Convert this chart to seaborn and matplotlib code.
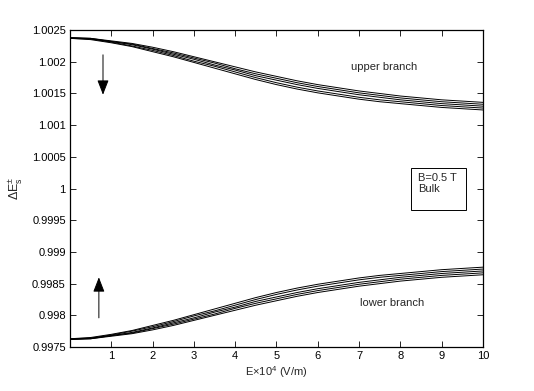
import matplotlib
matplotlib.use("Agg")
import matplotlib.pyplot as plt
import seaborn as sns
import numpy as np
import pandas as pd
from matplotlib.patches import Rectangle

# ---- data ----
E = [0, 0.5, 1, 1.5, 2, 2.5, 3, 3.5, 4, 4.5, 5, 5.5, 6, 6.5, 7, 7.5, 8, 8.5, 9, 9.5, 10]

upper1 = [1.00238, 1.00237, 1.00233, 1.00229, 1.00223, 1.00216, 1.00208, 1.00200, 1.00192, 1.00184, 1.00177,
          1.00170, 1.00164, 1.00159, 1.00154, 1.00150, 1.00146, 1.00143, 1.00140, 1.00138, 1.00136]
upper2 = [1.00238, 1.00237, 1.00232, 1.00228, 1.00221, 1.00214, 1.00206, 1.00198, 1.00189, 1.00181, 1.00174,
          1.00167, 1.00161, 1.00156, 1.00151, 1.00147, 1.00143, 1.00140, 1.00137, 1.00135, 1.00133]
upper3 = [1.00238, 1.00236, 1.00232, 1.00227, 1.00220, 1.00212, 1.00204, 1.00195, 1.00187, 1.00178, 1.00171,
          1.00164, 1.00158, 1.00153, 1.00148, 1.00144, 1.00140, 1.00137, 1.00134, 1.00132, 1.00130]
upper4 = [1.00237, 1.00236, 1.00231, 1.00225, 1.00218, 1.00210, 1.00201, 1.00193, 1.00184, 1.00175, 1.00167,
          1.00160, 1.00154, 1.00149, 1.00144, 1.00140, 1.00137, 1.00134, 1.00131, 1.00129, 1.00127]
upper5 = [1.00237, 1.00235, 1.00230, 1.00224, 1.00216, 1.00208, 1.00199, 1.00190, 1.00181, 1.00172, 1.00164,
          1.00157, 1.00151, 1.00146, 1.00141, 1.00137, 1.00134, 1.00131, 1.00128, 1.00126, 1.00124]

lower1 = [0.99762, 0.99763, 0.99767, 0.99771, 0.99777, 0.99784, 0.99792, 0.99800, 0.99808, 0.99816, 0.99823,
          0.99830, 0.99836, 0.99841, 0.99846, 0.99850, 0.99854, 0.99857, 0.99860, 0.99862, 0.99864]
lower2 = [0.99762, 0.99763, 0.99768, 0.99772, 0.99779, 0.99786, 0.99794, 0.99802, 0.99811, 0.99819, 0.99826,
          0.99833, 0.99839, 0.99844, 0.99849, 0.99853, 0.99857, 0.99860, 0.99863, 0.99865, 0.99867]
lower3 = [0.99762, 0.99764, 0.99768, 0.99773, 0.99780, 0.99788, 0.99796, 0.99805, 0.99813, 0.99822, 0.99829,
          0.99836, 0.99842, 0.99847, 0.99852, 0.99856, 0.99860, 0.99863, 0.99866, 0.99868, 0.99870]
lower4 = [0.99763, 0.99764, 0.99769, 0.99775, 0.99782, 0.99790, 0.99799, 0.99807, 0.99816, 0.99825, 0.99833,
          0.99840, 0.99846, 0.99851, 0.99856, 0.99860, 0.99863, 0.99866, 0.99869, 0.99871, 0.99873]
lower5 = [0.99763, 0.99765, 0.99770, 0.99776, 0.99784, 0.99792, 0.99801, 0.99810, 0.99819, 0.99828, 0.99836,
          0.99843, 0.99849, 0.99854, 0.99859, 0.99863, 0.99866, 0.99869, 0.99872, 0.99874, 0.99876]

curves = {"u1": upper1, "u2": upper2, "u3": upper3, "u4": upper4, "u5": upper5,
          "l1": lower1, "l2": lower2, "l3": lower3, "l4": lower4, "l5": lower5}

x_ticks = [1, 2, 3, 4, 5, 6, 7, 8, 9, 10]
y_ticks = [0.9975, 0.998, 0.9985, 0.999, 0.9995, 1.0, 1.0005, 1.001, 1.0015, 1.002, 1.0025]
y_labels = ["0.9975", "0.998", "0.9985", "0.999", "0.9995", "1", "1.0005", "1.001", "1.0015", "1.002", "1.0025"]

# ---- style ----
sns.set_style("ticks", {"xtick.direction": "in", "ytick.direction": "in"})
plt.rcParams["font.family"] = ["Liberation Sans", "DejaVu Sans"]
plt.rcParams["mathtext.fontset"] = "custom"
plt.rcParams["mathtext.rm"] = "Liberation Sans"
plt.rcParams["mathtext.it"] = "Liberation Sans"
plt.rcParams["mathtext.sf"] = "Liberation Sans"

fig = plt.figure(figsize=(5.34, 3.91), dpi=100)
ax = fig.add_axes([0.131, 0.1125, 0.7735, 0.8105])

df = pd.DataFrame([(e, v, name) for name, vals in curves.items() for e, v in zip(E, vals)],
                  columns=["E", "val", "curve"])
sns.lineplot(data=df, x="E", y="val", hue="curve", estimator=None,
             palette=["black"] * len(curves), linewidth=0.7, legend=False, ax=ax)

ax.set_xlim(0, 10)
ax.set_ylim(0.9975, 1.0025)
ax.set_xticks(x_ticks)
ax.set_xticklabels([str(t) for t in x_ticks])
ax.set_yticks(y_ticks)
ax.set_yticklabels(y_labels)
ax.tick_params(axis="both", which="both", direction="in", length=4, width=0.6,
               labelsize=8, top=True, right=True, colors="black", pad=3)
for s in ax.spines.values():
    s.set_visible(True)
    s.set_linewidth(0.9)
    s.set_color("black")

ax.set_xlabel(r"E$\times$10$^{4}$ (V/m)", fontsize=8, labelpad=2)
ax.set_ylabel(r"$\Delta\mathrm{E}_{\mathrm{s}}^{\pm}$", fontsize=9, labelpad=6)

ax.text(7.6, 1.00192, "upper branch", fontsize=8, ha="center", va="center")
ax.text(7.8, 0.99819, "lower branch", fontsize=8, ha="center", va="center")

arrow_style = dict(arrowstyle="-|>,head_length=0.9,head_width=0.35", color="black",
                   lw=0.7, mutation_scale=10, shrinkA=0, shrinkB=0)
ax.annotate("", xy=(0.8, 1.00148), xytext=(0.8, 1.00211), arrowprops=arrow_style)
ax.annotate("", xy=(0.7, 0.99860), xytext=(0.7, 0.99796), arrowprops=arrow_style)

ax.add_patch(Rectangle((8.26, 0.99966), 1.33, 0.000665, fill=False, edgecolor="black", lw=0.7))
ax.text(8.42, 1.00025, "B=0.5 T\nBulk", fontsize=8, ha="left", va="top", linespacing=1.2)

fig.savefig("out.png", dpi=100)
